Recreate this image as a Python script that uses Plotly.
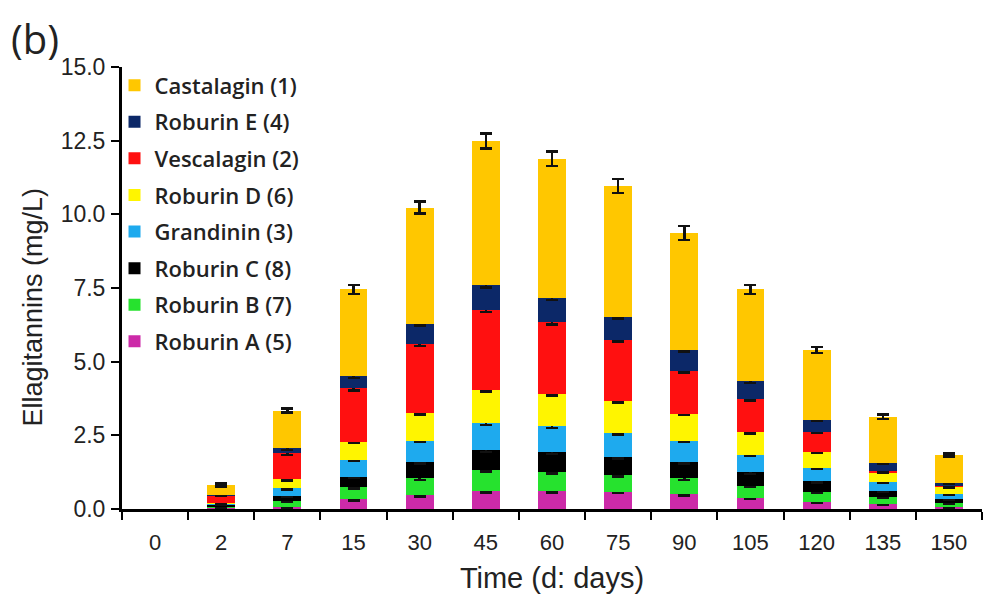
import plotly.graph_objects as go

days = ["0", "2", "7", "15", "30", "45", "60", "75", "90", "105", "120", "135", "150"]

# Stack order bottom -> top. Day 0: nothing detected (None).
roburin_a = [None, 0.02, 0.08, 0.33, 0.48, 0.62, 0.62, 0.59, 0.50, 0.38, 0.25, 0.18, 0.07]
roburin_b = [None, 0.08, 0.20, 0.41, 0.56, 0.71, 0.65, 0.57, 0.54, 0.41, 0.34, 0.22, 0.13]
roburin_c = [None, 0.06, 0.16, 0.36, 0.57, 0.68, 0.65, 0.62, 0.57, 0.45, 0.35, 0.20, 0.13]
grandinin = [None, 0.03, 0.26, 0.57, 0.71, 0.90, 0.88, 0.80, 0.71, 0.60, 0.44, 0.32, 0.18]
roburin_d = [None, 0.03, 0.31, 0.62, 0.93, 1.14, 1.11, 1.10, 0.92, 0.77, 0.57, 0.33, 0.24]
vescalagin = [None, 0.24, 0.88, 1.81, 2.36, 2.72, 2.43, 2.07, 1.45, 1.13, 0.68, 0.03, 0.02]
roburin_e = [None, 0.02, 0.17, 0.40, 0.68, 0.82, 0.83, 0.78, 0.71, 0.59, 0.40, 0.28, 0.12]
castalagin = [None, 0.34, 1.28, 2.95, 3.94, 4.90, 4.72, 4.43, 3.97, 3.12, 2.37, 1.57, 0.94]

err_a = [None, 0.01, 0.03, 0.04, 0.05, 0.06, 0.06, 0.05, 0.05, 0.04, 0.03, 0.02, 0.02]
err_b = [None, 0.01, 0.03, 0.05, 0.06, 0.06, 0.06, 0.05, 0.05, 0.04, 0.04, 0.03, 0.02]
err_c = [None, 0.01, 0.03, 0.05, 0.06, 0.07, 0.06, 0.06, 0.06, 0.05, 0.04, 0.03, 0.02]
err_g = [None, 0.01, 0.03, 0.04, 0.05, 0.06, 0.05, 0.05, 0.05, 0.04, 0.03, 0.02, 0.02]
err_d = [None, 0.01, 0.04, 0.05, 0.05, 0.07, 0.06, 0.06, 0.05, 0.05, 0.04, 0.03, 0.02]
err_v = [None, 0.02, 0.05, 0.07, 0.08, 0.09, 0.08, 0.07, 0.06, 0.06, 0.04, 0.01, 0.01]
err_e = [None, 0.01, 0.05, 0.06, 0.07, 0.08, 0.08, 0.07, 0.06, 0.05, 0.04, 0.03, 0.02]
err_cast = [None, 0.05, 0.07, 0.15, 0.21, 0.26, 0.25, 0.24, 0.24, 0.15, 0.10, 0.07, 0.05]

series = [
    ("Roburin A (5)", roburin_a, err_a, "#CC2AA8"),
    ("Roburin B (7)", roburin_b, err_b, "#26E22E"),
    ("Roburin C (8)", roburin_c, err_c, "#000000"),
    ("Grandinin (3)", grandinin, err_g, "#1EAAEE"),
    ("Roburin D (6)", roburin_d, err_d, "#FFF500"),
    ("Vescalagin (2)", vescalagin, err_v, "#FF1010"),
    ("Roburin E (4)", roburin_e, err_e, "#0C2868"),
    ("Castalagin (1)", castalagin, err_cast, "#FFC700"),
]

fig = go.Figure()
n = len(series)
for i, (name, vals, errs, color) in enumerate(series):
    fig.add_trace(go.Bar(
        x=days, y=vals, name=name, legendgroup=name, legendrank=n - i,
        marker=dict(color=color, line=dict(width=0)),
        error_y=dict(type="data", array=errs, visible=True, color="#111111",
                     thickness=2.5, width=6),
    ))

AX = dict(showline=True, linecolor="#000000", linewidth=3, mirror=False,
          showgrid=False, zeroline=False, ticks="outside", ticklen=8,
          tickwidth=2, tickcolor="#000000")

# The page body has an 8 px margin, so the figure is sized and offset for it.
fig.update_layout(
    width=984, height=592,
    barmode="stack", bargap=0.58,
    paper_bgcolor="white", plot_bgcolor="white",
    margin=dict(l=114, r=10, t=59, b=91, autoexpand=False),
    font=dict(family="Liberation Sans, Arial, sans-serif", color="#222222"),
    xaxis=dict(**AX, type="category", categoryorder="array", categoryarray=days,
               tickson="boundaries", tickfont=dict(size=22), ticklabelstandoff=12,
               title=dict(text="Time (d: days)", font=dict(size=29), standoff=14)),
    yaxis=dict(**AX, range=[0, 15], dtick=2.5, tickformat=".1f",
               tickfont=dict(size=23), ticklabelstandoff=1),
    legend=dict(x=-0.0087, y=1.006, xanchor="left", yanchor="top",
                traceorder="grouped", tracegroupgap=5, maxheight=560,
                font=dict(family="Open Sans, sans-serif", size=22, color="#222222",
                          weight=600),
                bgcolor="rgba(0,0,0,0)", itemwidth=30),
    showlegend=True,
    annotations=[
        dict(text="(b)", xref="paper", yref="paper", x=-0.101, y=1.064,
             xanchor="center", yanchor="middle", showarrow=False,
             font=dict(family="Open Sans, sans-serif", size=40, color="#222222")),
        dict(text="Ellagitannins (mg/L)", xref="paper", yref="paper",
             x=-0.1035, y=0.458, xanchor="center", yanchor="middle",
             textangle=-90, showarrow=False,
             font=dict(family="Liberation Sans, Arial, sans-serif", size=27,
                       color="#222222")),
    ],
)

fig.write_html("out.html")
